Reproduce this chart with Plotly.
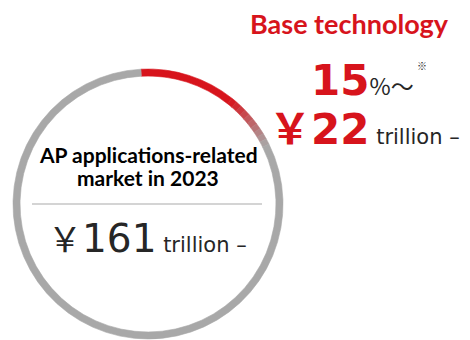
import plotly.graph_objects as go

# ---- data ----
segment_labels = ["Base technology", "Other AP applications"]
segment_share_pct = [15, 85]          # share of the 2023 market (%)
total_market_trillion_yen = 161
base_tech_trillion_yen = 22
center_title_lines = ["AP applications-related", "market in 2023"]

RED = "#d7141c"
GRAY = "#a8a8a8"
TEXT = "#262626"

W, H = 470, 340

def mix(c1, c2, t):
    a = [int(c1[i:i+2], 16) for i in (1, 3, 5)]
    b = [int(c2[i:i+2], 16) for i in (1, 3, 5)]
    return "#" + "".join(f"{round(x + (y - x) * t):02x}" for x, y in zip(a, b))

# ring: the red share fades into gray at its end (styling only)
share = segment_share_pct[0]
fade_steps = 10
fade_span = 7.0
solid = share - fade_span / 2
vals, cols = [solid], [RED]
for i in range(fade_steps):
    vals.append(fade_span / fade_steps)
    cols.append(mix(RED, GRAY, (i + 0.5) / fade_steps))
vals.append(segment_share_pct[1] - fade_span / 2)
cols.append(GRAY)

fig = go.Figure()
fig.add_trace(go.Pie(
    values=vals,
    sort=False,
    direction="clockwise",
    rotation=-3,
    hole=0.948,
    marker=dict(colors=cols, line=dict(color=cols, width=0.6)),
    textinfo="none",
    hoverinfo="skip",
    showlegend=False,
    domain=dict(x=[13 / W, 283 / W], y=[1 - 339 / H, 1 - 69 / H]),
))

def px(x):
    return x / W

def py(y):
    return 1 - y / H

DV = "font-family:DejaVu Sans"
CJK = "font-family:Noto Sans CJK JP"

ann = []
ann.append(dict(
    x=px(349), y=py(24), xanchor="center", yanchor="middle",
    text=f"<b>{segment_labels[0]}</b>",
    font=dict(family="Lato", size=27, color=RED), showarrow=False))

ann.append(dict(
    x=px(309), y=py(80), xanchor="left", yanchor="middle",
    text=(f"<span style='{DV};font-size:42px;color:{RED};font-weight:bold'>{share}</span>"
          f"<span style='{CJK};font-size:23px;color:{TEXT}'>%～</span>"),
    font=dict(family="Noto Sans CJK JP", size=23, color=TEXT), showarrow=False))

ann.append(dict(
    x=px(422), y=py(66), xanchor="center", yanchor="middle",
    text="※",
    font=dict(family="Noto Sans CJK JP", size=10, color=TEXT), showarrow=False))

ann.append(dict(
    x=px(267), y=py(125), xanchor="left", yanchor="middle",
    text=(f"<span style='{CJK};font-size:42px;color:{RED};font-weight:bold'>￥</span>"
          f"<span style='{DV};font-size:42px;color:{RED};font-weight:bold'>{base_tech_trillion_yen}</span>"
          f"<span style='{DV};font-size:21px;color:{TEXT}'> trillion –</span>"),
    font=dict(family="DejaVu Sans", size=21, color=TEXT), showarrow=False))

ann.append(dict(
    x=px(148), y=py(155), xanchor="center", yanchor="middle",
    text=f"<b>{center_title_lines[0]}</b>",
    font=dict(family="Lato", size=21, color="#000000"), showarrow=False))
ann.append(dict(
    x=px(148), y=py(177), xanchor="center", yanchor="middle",
    text=f"<b>{center_title_lines[1]}</b>",
    font=dict(family="Lato", size=21, color="#000000"), showarrow=False))

ann.append(dict(
    x=px(46), y=py(237), xanchor="left", yanchor="middle",
    text=(f"<span style='{CJK};font-size:34px'>￥</span>"
          f"<span style='{DV};font-size:39px'>{total_market_trillion_yen}</span>"
          f"<span style='{DV};font-size:21px'> trillion –</span>"),
    font=dict(family="DejaVu Sans", size=21, color=TEXT), showarrow=False))

fig.update_layout(
    width=W, height=H,
    margin=dict(l=0, r=0, t=0, b=0),
    paper_bgcolor="white", plot_bgcolor="white",
    annotations=ann,
    shapes=[dict(type="line", xref="paper", yref="paper",
                 x0=px(32), x1=px(262), y0=py(204), y1=py(204),
                 line=dict(color="#d4d4d4", width=2))],
)

fig.write_html("out.html")
